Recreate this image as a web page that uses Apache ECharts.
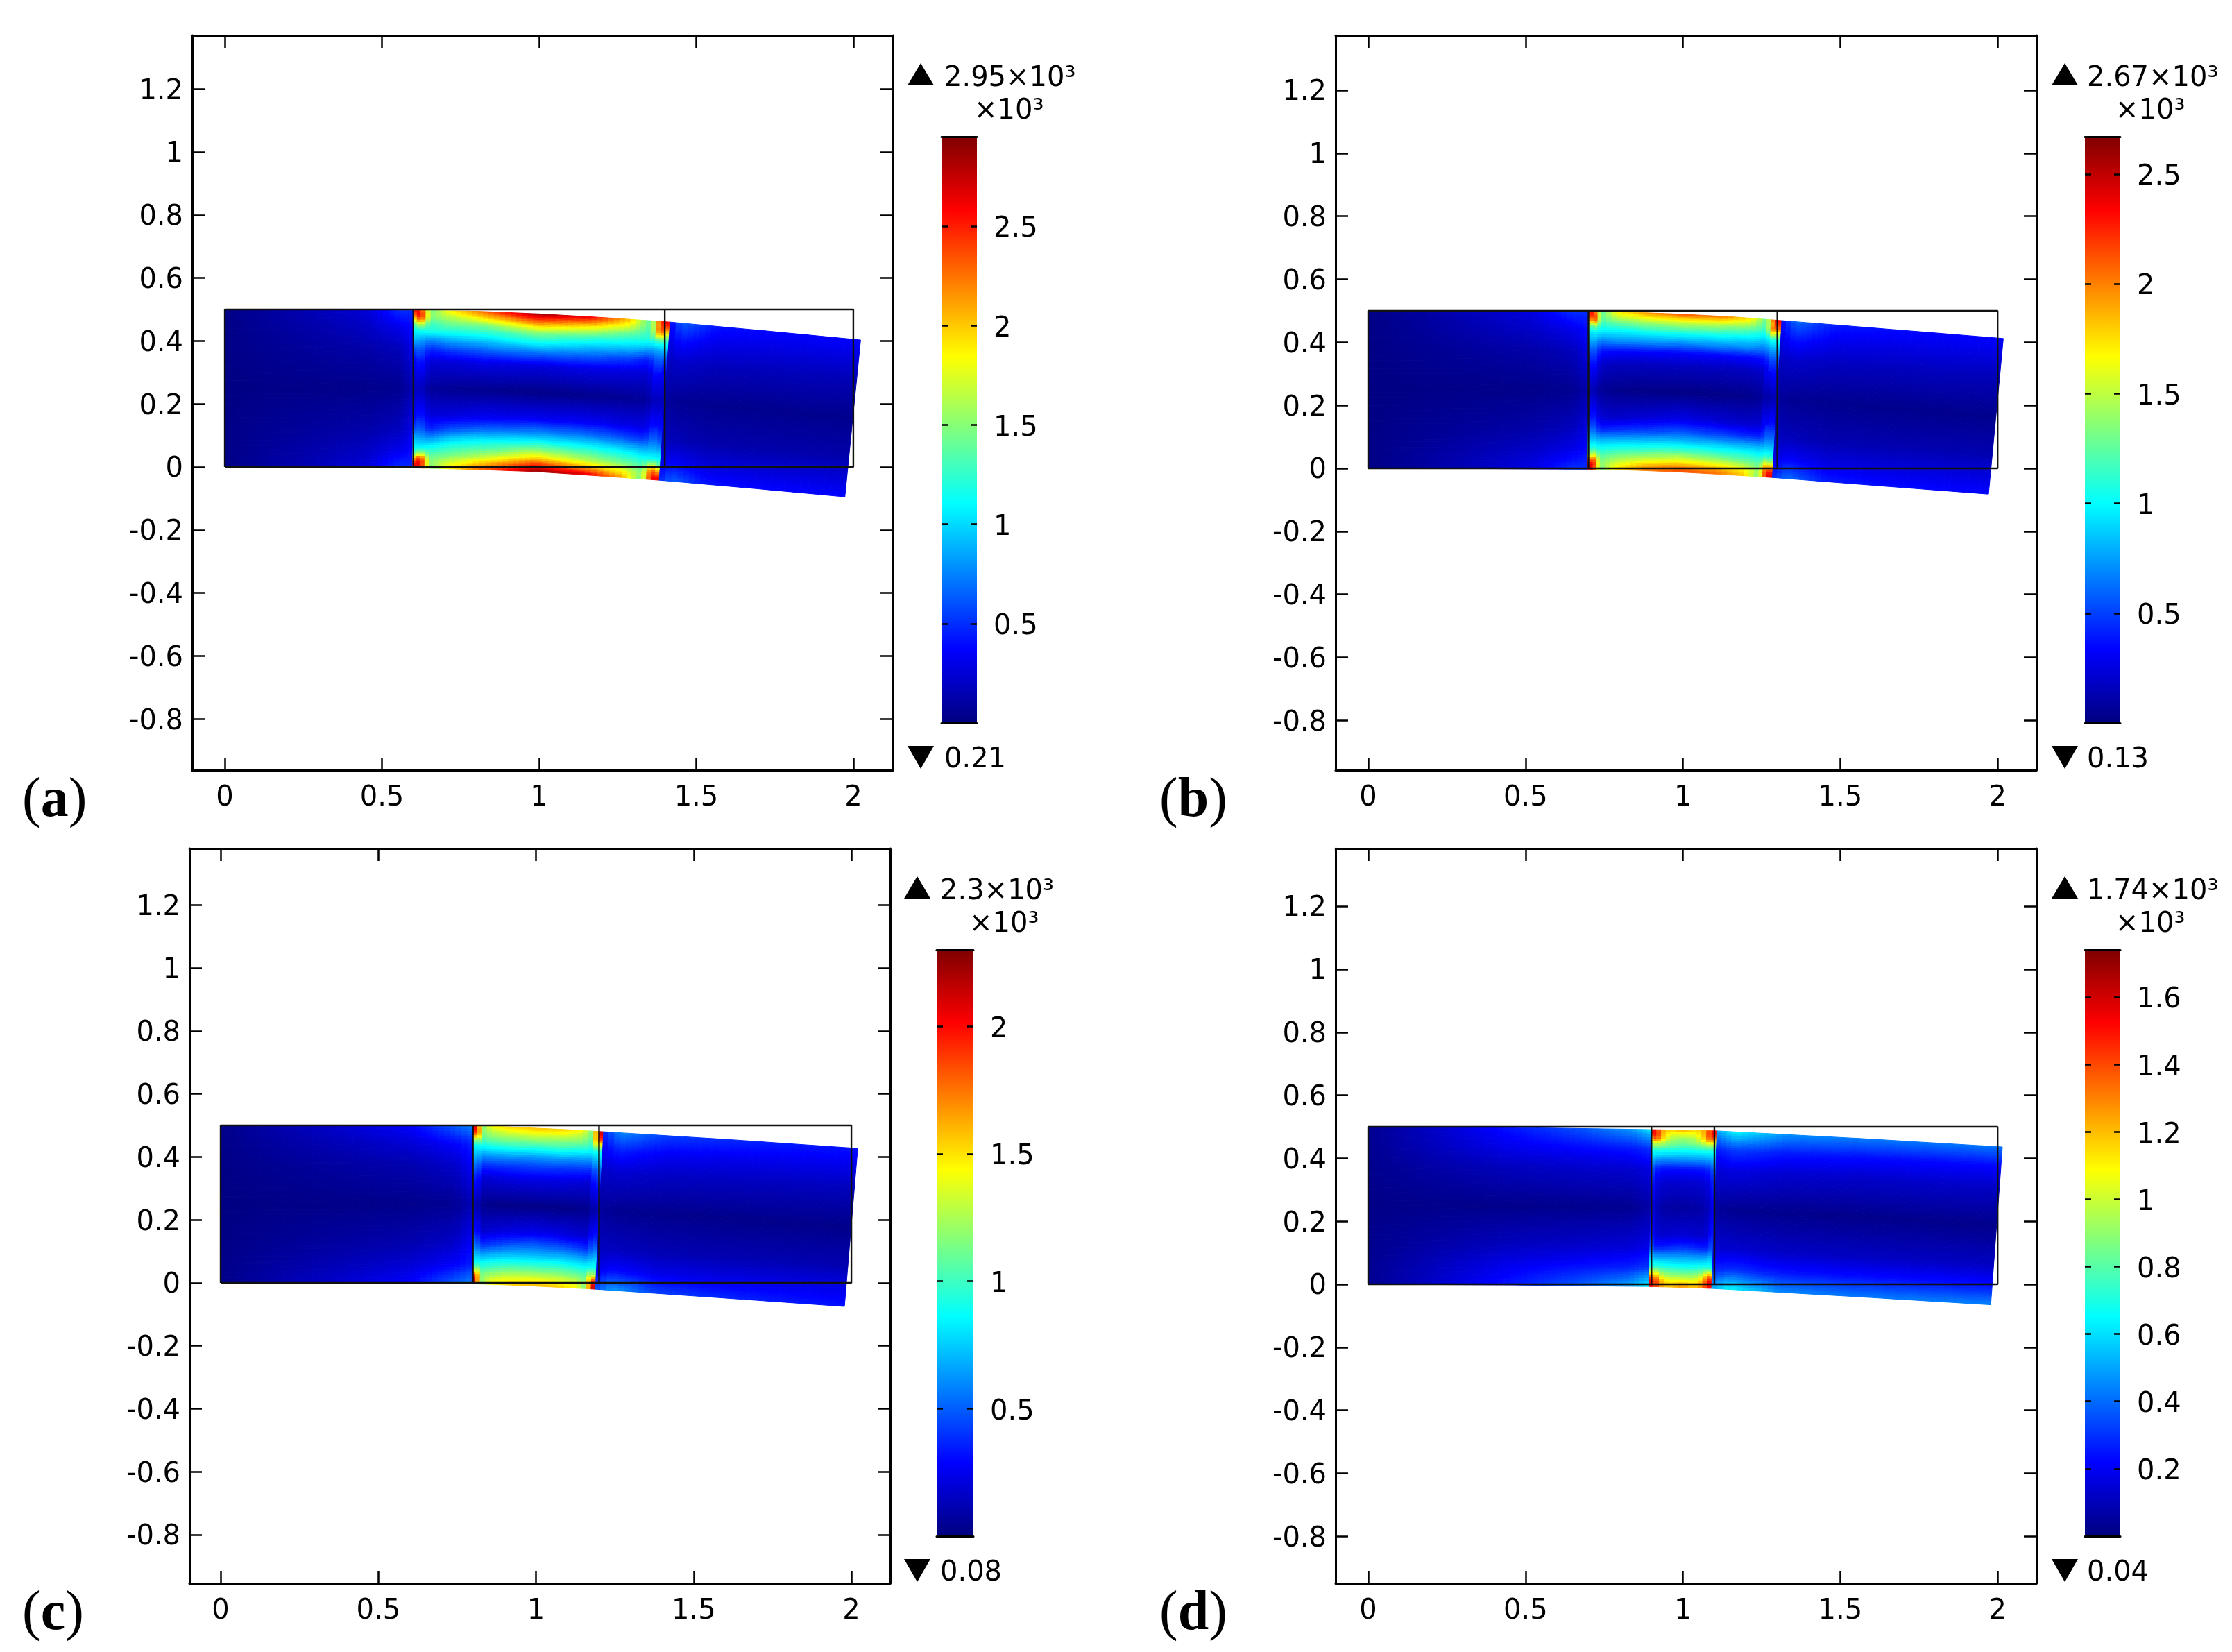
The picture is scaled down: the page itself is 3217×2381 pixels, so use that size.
<!DOCTYPE html>
<html><head><meta charset="utf-8">
<script src="https://cdn.jsdelivr.net/npm/echarts@6/dist/echarts.min.js"></script>
<style>html,body{margin:0;padding:0;background:#fff}#c{width:3217px;height:2381px}</style>
</head><body><div id="c"></div>
<script>
// ---------- data ----------
const xTicks = [0, 0.5, 1, 1.5, 2];
const yTicks = [-0.8, -0.6, -0.4, -0.2, 0, 0.2, 0.4, 0.6, 0.8, 1, 1.2];
const barTicksA = [0.5, 1, 1.5, 2, 2.5];
const barTicksB = [0.5, 1, 1.5, 2, 2.5];
const barTicksC = [0.5, 1, 1.5, 2];
const barTicksD = [0.2, 0.4, 0.6, 0.8, 1, 1.2, 1.4, 1.6];
const jetColors = ['#00007f', '#0000ff', '#007fff', '#00ffff', '#7fff7f', '#ffff00', '#ff7f00', '#ff0000', '#7f0000'];

// stations across the beam (v: 0 top, 1 bottom) and along each block (u)
const midU = [0, .03, .07, .15, .3, .5, .7, .85, .93, .97, 1];
const midV = [0, .03, .06, .09, .13, .19, .25, .33, .5, .67, .75, .81, .87, .91, .94, .97, 1];
const leftU = [0, .25, .5, .75, .93, 1];
const rightU = [0, .07, .25, .5, .75, 1];
const outerV = [0, .12, .25, .5, .75, .88, 1];

const midFieldA = [
[2600,2500,1400,1900,2350,2900,2650,2000,1300,2500,2700],
[2200,2700,1500,1700,2100,2550,2300,1850,1350,2400,2500],
[1700,2400,1400,1550,1800,2200,1950,1650,1300,2500,2000],
[1300,1700,1250,1400,1500,1850,1650,1400,1250,2100,1500],
[1100,1150,1200,1200,1250,1450,1300,1200,1150,1300,1200],
[900,850,750,850,950,1100,950,900,800,850,900],
[550,650,450,550,650,700,650,550,450,650,500],
[300,450,250,250,300,280,300,280,250,450,300],
[150,200,80,60,40,25,40,60,80,200,150],
[300,450,280,280,330,340,350,300,280,450,350],
[550,650,450,600,680,740,700,600,500,700,550],
[900,850,800,950,1050,1100,1050,950,850,900,850],
[1100,1100,1150,1250,1350,1550,1400,1250,1150,1150,1100],
[1300,1700,1350,1400,1600,1900,1650,1450,1300,1700,1350],
[2000,2550,1450,1600,1850,2250,1950,1700,1400,2300,1800],
[2500,2700,1500,1750,2100,2600,2300,1900,1500,2500,2300],
[2700,2500,1400,1900,2350,2900,2700,2100,1400,2600,2700]];
const midFieldB = [
[2300,2250,1200,1700,1950,2150,2050,1750,1250,2300,2400],
[2000,2450,1250,1550,1700,1800,1750,1550,1200,2100,2300],
[1500,2300,1200,1350,1450,1500,1450,1350,1150,2300,1800],
[1150,1500,1100,1150,1250,1300,1250,1150,1050,1800,1300],
[900,1000,950,950,1000,1001,1000,950,900,1100,1000],
[750,800,650,700,700,680,700,700,650,800,750],
[500,600,380,350,340,330,340,350,380,600,500],
[300,420,200,170,170,170,170,170,200,420,300],
[130,150,60,35,20,15,20,35,60,150,120],
[300,450,220,200,230,280,230,200,220,450,300],
[550,650,420,450,500,560,500,450,420,650,550],
[800,850,780,800,830,850,830,800,780,850,800],
[1050,1150,1050,1100,1150,1200,1150,1100,1050,1150,1050],
[1250,1700,1200,1300,1400,1500,1400,1300,1200,1650,1250],
[1800,2300,1300,1450,1600,1700,1650,1500,1300,2100,1800],
[2300,2500,1350,1600,1850,2000,1900,1700,1400,2300,2200],
[2450,2300,1250,1750,2000,2150,2050,1800,1300,2400,2500]];
const midFieldC = [
[2050,2050,1100,1450,1540,1580,1550,1450,1100,2100,2200],
[1900,2150,1150,1300,1400,1440,1420,1300,1100,2000,2050],
[1400,1950,1100,1200,1250,1280,1250,1200,1050,2050,1600],
[1050,1300,1020,1080,1120,1130,1120,1080,980,1600,1100],
[820,880,860,900,930,930,930,900,860,920,860],
[680,720,600,620,630,620,630,620,600,760,680],
[480,570,380,390,410,420,410,390,380,570,480],
[290,410,190,200,220,230,220,200,190,410,290],
[100,130,40,25,20,18,20,25,40,130,100],
[270,390,180,200,230,260,230,200,180,390,270],
[510,570,380,420,480,520,480,420,380,570,510],
[720,740,640,680,710,720,710,680,640,740,720],
[870,920,890,920,950,970,950,920,890,920,870],
[1000,1500,1030,1080,1130,1150,1130,1080,1030,1400,1000],
[1600,2050,1120,1220,1280,1300,1280,1220,1120,1800,1600],
[2050,2200,1150,1330,1420,1450,1420,1330,1150,2050,2000],
[2200,2050,1100,1450,1560,1600,1560,1450,1100,2100,2200]];
const midFieldD = [
[1500,1500,1500,1250,1150,1250,1150,1250,1500,1500,1500],
[1450,1500,1550,1250,1050,1050,1050,1250,1550,1500,1450],
[1150,1300,1400,1200,950,900,950,1200,1400,1300,1150],
[870,970,1000,960,870,830,870,960,1000,970,870],
[670,700,700,700,690,680,690,700,700,700,670],
[520,540,500,470,470,470,470,470,500,540,520],
[350,380,290,250,240,240,240,250,290,380,350],
[260,300,190,150,140,140,140,150,190,300,260],
[170,200,110,75,60,55,60,75,110,200,170],
[230,280,170,130,140,150,140,130,170,280,230],
[320,380,270,260,280,300,280,260,270,380,320],
[500,570,510,490,490,490,490,490,510,570,500],
[650,690,710,700,680,670,680,700,710,690,650],
[1000,1100,1100,900,830,820,830,900,1100,1100,1000],
[1350,1450,1400,1100,960,960,960,1100,1400,1450,1350],
[1550,1550,1550,1250,1100,1150,1100,1250,1550,1550,1550],
[1500,1500,1500,1300,1200,1300,1200,1300,1500,1500,1500]];

const leftFieldA = [[20,100,170,250,500,480],[20,80,130,190,300,380],[20,60,90,120,170,300],[15,25,30,35,50,150],[20,60,90,120,180,300],[20,80,130,190,300,380],[20,100,170,260,500,480]];
const rightFieldA = [[350,650,420,380,370,370],[280,400,300,280,270,270],[180,220,180,170,170,160],[90,60,45,40,40,40],[180,170,130,130,130,130],[280,350,260,250,250,250],[450,650,420,380,380,370]];
const leftFieldB = [[15,90,170,260,450,450],[15,70,130,190,280,350],[15,50,80,110,160,260],[10,20,25,30,45,120],[15,50,80,110,170,260],[15,70,130,190,280,350],[15,90,170,270,450,450]];
const rightFieldB = [[330,620,400,360,340,340],[260,380,280,260,250,250],[170,200,170,160,160,150],[80,50,40,35,35,35],[170,160,130,130,130,130],[260,330,250,240,240,240],[430,620,400,360,350,340]];
const leftFieldC = [[20,110,190,280,500,600],[20,80,130,190,280,350],[15,50,80,110,170,280],[10,18,22,28,45,120],[15,50,80,110,170,280],[20,80,130,190,280,350],[20,110,190,280,500,600]];
const rightFieldC = [[350,600,430,380,340,320],[260,350,270,250,240,240],[160,190,160,150,145,140],[70,40,30,25,25,25],[150,150,120,115,115,115],[240,310,240,230,230,230],[450,650,430,370,340,320]];
const leftFieldD = [[30,130,250,360,480,620],[30,110,190,230,260,300],[25,70,110,130,140,170],[15,20,20,25,30,70],[25,70,110,130,150,180],[30,110,190,240,270,310],[30,130,250,370,500,650]];
const rightFieldD = [[500,650,470,430,420,420],[260,320,260,240,230,230],[150,170,140,130,130,125],[50,30,22,20,20,20],[140,140,120,115,115,115],[270,300,250,240,240,240],[500,650,450,420,430,440]];

// deformed block edges, [x, y] at evenly spaced stations along each block
const edgesA = {
  left: {top: [[0,.5],[.3,.5],[.6,.497]], bot: [[0,0],[.3,-.001],[.598,-.003]]},
  mid: {top: [[.6,.497],[.8,.4945],[1,.486],[1.21,.474],[1.415,.46]], bot: [[.598,-.003],[.79,-.008],[.99,-.015],[1.185,-.028],[1.38,-.042]]},
  right: {top: [[1.415,.46],[1.72,.432],[2.023,.403]], bot: [[1.38,-.042],[1.68,-.068],[1.973,-.095]]}};
const edgesB = {
  left: {top: [[0,.5],[.35,.5],[.7,.497]], bot: [[0,0],[.35,-.001],[.697,-.003]]},
  mid: {top: [[.7,.497],[.85,.495],[1,.489],[1.155,.481],[1.312,.469]], bot: [[.697,-.003],[.84,-.006],[.99,-.012],[1.135,-.02],[1.282,-.029]]},
  right: {top: [[1.312,.469],[1.66,.441],[2.018,.412]], bot: [[1.282,-.029],[1.63,-.056],[1.971,-.082]]}};
const edgesC = {
  left: {top: [[0,.5],[.4,.5],[.802,.498]], bot: [[0,0],[.4,-.001],[.797,-.003]]},
  mid: {top: [[.802,.498],[.9,.496],[1.005,.491],[1.11,.486],[1.212,.48]], bot: [[.797,-.003],[.89,-.006],[.99,-.01],[1.09,-.015],[1.186,-.02]]},
  right: {top: [[1.212,.48],[1.62,.4545],[2.02,.427]], bot: [[1.186,-.02],[1.58,-.047],[1.978,-.075]]}};
const edgesD = {
  left: {top: [[0,.5],[.45,.498],[.903,.491]], bot: [[0,0],[.45,-.002],[.892,-.007]]},
  mid: {top: [[.903,.491],[1,.489],[1.108,.487]], bot: [[.892,-.007],[1,-.01],[1.089,-.013]]},
  right: {top: [[1.108,.487],[1.56,.463],[2.015,.436]], bot: [[1.089,-.013],[1.53,-.038],[1.978,-.065]]}};

// undeformed block boundaries
const jointsA = [0.6, 1.4], jointsB = [0.7, 1.3], jointsC = [0.8, 1.2], jointsD = [0.9, 1.1];
const outlineX = [0, 2, 2, 0, 0], outlineY = [0, 0, 0.5, 0.5, 0];
const maxA = 2950, maxB = 2670, maxC = 2300, maxD = 1740;
const maxLabels = ['2.95×10³', '2.67×10³', '2.3×10³', '1.74×10³'];
const minLabels = ['0.21', '0.13', '0.08', '0.04'];
const panelLetters = ['a', 'b', 'c', 'd'];

// ---------- layout ----------
const FONT = '"DejaVu Sans"';
const layouts = [
 {L:277,R:1287,T:51,B:1110,xr:[-.1038,2.126],yr:[-.9626,1.370],bL:1357,bR:1408,bT:197,bB:1042,triL:1308,txt:1361,row2:1404,dy:0,lab:33},
 {L:1925,R:2935,T:51,B:1110,xr:[-.1036,2.123],yr:[-.958,1.374],bL:3005,bR:3056,bT:197,bB:1042,triL:2957,txt:3008,row2:3049,dy:0,lab:1672},
 {L:273,R:1283,T:1223,B:2282,xr:[-.099,2.123],yr:[-.954,1.379],bL:1350,bR:1403,bT:1369,bB:2214,triL:1303,txt:1355,row2:1397,dy:1172,lab:33},
 {L:1925,R:2935,T:1223,B:2282,xr:[-.1036,2.123],yr:[-.949,1.383],bL:3005,bR:3056,bT:1369,bB:2214,triL:2957,txt:3008,row2:3049,dy:1172,lab:1672}
];
const panelData = [
 {mid:midFieldA,left:leftFieldA,right:rightFieldA,edges:edgesA,joints:jointsA,max:maxA,ticks:barTicksA},
 {mid:midFieldB,left:leftFieldB,right:rightFieldB,edges:edgesB,joints:jointsB,max:maxB,ticks:barTicksB},
 {mid:midFieldC,left:leftFieldC,right:rightFieldC,edges:edgesC,joints:jointsC,max:maxC,ticks:barTicksC},
 {mid:midFieldD,left:leftFieldD,right:rightFieldD,edges:edgesD,joints:jointsD,max:maxD,ticks:barTicksD}
];

function along(e, u) {
  const s = u * (e.length - 1), k = Math.min(e.length - 2, Math.floor(s)), t = s - k;
  return [e[k][0] + (e[k+1][0] - e[k][0]) * t, e[k][1] + (e[k+1][1] - e[k][1]) * t];
}
function blockSeries(table, us, vs, edge, max, xi, yi) {
  const cells = [];
  for (let r = 0; r < vs.length - 1; r++) for (let c = 0; c < us.length - 1; c++) cells.push([c, r]);
  return {
    type: 'custom', coordinateSystem: 'cartesian2d', xAxisIndex: xi, yAxisIndex: yi,
    data: cells, animation: false, silent: true, clip: false, z: 2, progressive: 0,
    renderItem(params, api) {
      const c = api.value(0), r = api.value(1);
      const u0 = us[c], u1 = us[c+1], v0 = vs[r], v1 = vs[r+1];
      const P = (u, v) => {
        const t = along(edge.top, u), b = along(edge.bot, u);
        return api.coord([t[0] + (b[0] - t[0]) * v, t[1] + (b[1] - t[1]) * v]);
      };
      const a = P(u0, v0), bb = P(u1, v1);
      const nU = Math.max(1, Math.ceil(Math.abs(bb[0] - a[0]) / 9));
      const nV = Math.max(1, Math.ceil(Math.abs(bb[1] - a[1]) / 4));
      const lat = [];
      for (let j = 0; j <= nV; j++) { const row = [];
        for (let i = 0; i <= nU; i++) row.push(P(u0 + (u1 - u0) * i / nU, v0 + (v1 - v0) * j / nV));
        lat.push(row);
      }
      const f00 = table[r][c], f10 = table[r][c+1], f01 = table[r+1][c], f11 = table[r+1][c+1];
      const children = [];
      for (let j = 0; j < nV; j++) for (let i = 0; i < nU; i++) {
        const s = (i + .5) / nU, t = (j + .5) / nV;
        const val = f00 * (1-s) * (1-t) + f10 * s * (1-t) + f01 * (1-s) * t + f11 * s * t;
        const col = echarts.color.lerp(Math.min(1, val / max), jetColors);
        children.push({type: 'polygon', silent: true,
          shape: {points: [lat[j][i], lat[j][i+1], lat[j+1][i+1], lat[j+1][i]]},
          style: {fill: col, stroke: col, lineWidth: 1}});
      }
      return {type: 'group', silent: true, children};
    }
  };
}

const grid = [], xAxis = [], yAxis = [], series = [], graphic = [];
const axisBase = {axisLine: {onZero: false, lineStyle: {color: '#000', width: 3}}, splitLine: {show: false}};
const tickStyle = {color: '#000', width: 2.5};

layouts.forEach((L, p) => {
  const D = panelData[p];
  // main plot
  const gi = grid.length;
  grid.push({left: L.L, top: L.T, width: L.R - L.L, height: L.B - L.T, containLabel: false});
  const xi = xAxis.length, yi = yAxis.length;
  [['bottom', true], ['top', false]].forEach(([pos, lab]) => xAxis.push({...axisBase, type: 'value', gridIndex: gi, position: pos,
    min: L.xr[0], max: L.xr[1],
    axisTick: {show: true, inside: true, length: 18, lineStyle: tickStyle, customValues: xTicks},
    axisLabel: {show: lab, customValues: xTicks, margin: 21, color: '#000', fontFamily: FONT, fontSize: 40}}));
  [['left', true], ['right', false]].forEach(([pos, lab]) => yAxis.push({...axisBase, type: 'value', gridIndex: gi, position: pos,
    min: L.yr[0], max: L.yr[1],
    axisTick: {show: true, inside: true, length: 18, lineStyle: tickStyle, customValues: yTicks},
    axisLabel: {show: lab, customValues: yTicks, margin: 13, verticalAlign: 'top', lineHeight: 8, color: '#000', fontFamily: FONT, fontSize: 40}}));
  series.push(blockSeries(D.left, leftU, outerV, D.edges.left, D.max, xi, yi));
  series.push(blockSeries(D.right, rightU, outerV, D.edges.right, D.max, xi, yi));
  series.push(blockSeries(D.mid, midU, midV, D.edges.mid, D.max, xi, yi));
  const refLine = (data, w) => ({type: 'line', xAxisIndex: xi, yAxisIndex: yi, data, showSymbol: false, silent: true,
    animation: false, z: 4, lineStyle: {color: '#111', width: w}});
  series.push(refLine(outlineX.map((x, i) => [x, outlineY[i]]), 2.4));
  D.joints.forEach(j => series.push(refLine([[j, 0], [j, 0.5]], 2.4)));

  // colour bar
  const gb = grid.length, bx = xAxis.length, by = yAxis.length;
  grid.push({left: L.bL, top: L.bT, width: L.bR - L.bL, height: L.bB - L.bT});
  ['bottom', 'top'].forEach(pos => xAxis.push({type: 'category', data: [''], gridIndex: gb, position: pos, z: 5,
    axisLine: {show: true, onZero: false, lineStyle: {color: '#000', width: 3}}, axisTick: {show: false}, axisLabel: {show: false}}));
  const bt = D.ticks;
  [['left', false], ['right', true]].forEach(([pos, lab]) => yAxis.push({...axisBase, type: 'value', gridIndex: gb, position: pos, z: 5,
    min: 0, max: D.max / 1000,
    axisTick: {show: true, inside: true, length: 9, lineStyle: tickStyle, customValues: bt},
    axisLabel: {show: lab, customValues: bt, margin: 24, verticalAlign: 'top', lineHeight: 10, color: '#000', fontFamily: FONT, fontSize: 40}}));
  series.push({type: 'bar', xAxisIndex: bx, yAxisIndex: by, data: [D.max / 1000], barWidth: '100%', silent: true, animation: false, z: 2,
    itemStyle: {color: new echarts.graphic.LinearGradient(0, 0, 0, 1,
      jetColors.map((c, i) => ({offset: 1 - i / (jetColors.length - 1), color: c})).reverse())}});

  // max / min annotation
  const d = L.dy, t = L.triL;
  graphic.push({type: 'polygon', silent: true, shape: {points: [[t, 123 + d], [t + 38, 123 + d], [t + 19, 91 + d]]}, style: {fill: '#000'}});
  graphic.push({type: 'polygon', silent: true, shape: {points: [[t, 1075 + d], [t + 38, 1075 + d], [t + 19, 1108 + d]]}, style: {fill: '#000'}});
  const T = (text, x, y) => graphic.push({type: 'text', silent: true, x, y,
    style: {text, fill: '#000', font: `40px ${FONT}`, textAlign: 'left', textVerticalAlign: 'middle'}});
  T(maxLabels[p], L.txt, 114 + d);
  T('×10³', L.row2, 161 + d);
  T(minLabels[p], L.txt, 1096 + d);
  graphic.push({type: 'text', silent: true, x: L.lab - 1, y: 1155 + d,
    style: {text: '({b|' + panelLetters[p] + '})', fill: '#000', textVerticalAlign: 'middle',
      font: '80px "Liberation Serif"', rich: {b: {font: 'bold 80px "Liberation Serif"', fill: '#000'}}}});
});

const chart = echarts.init(document.getElementById('c'), null, {renderer: 'canvas', width: 3217, height: 2381});
chart.setOption({backgroundColor: '#fff', animation: false, grid, xAxis, yAxis, series, graphic: {elements: graphic}});
</script></body></html>
